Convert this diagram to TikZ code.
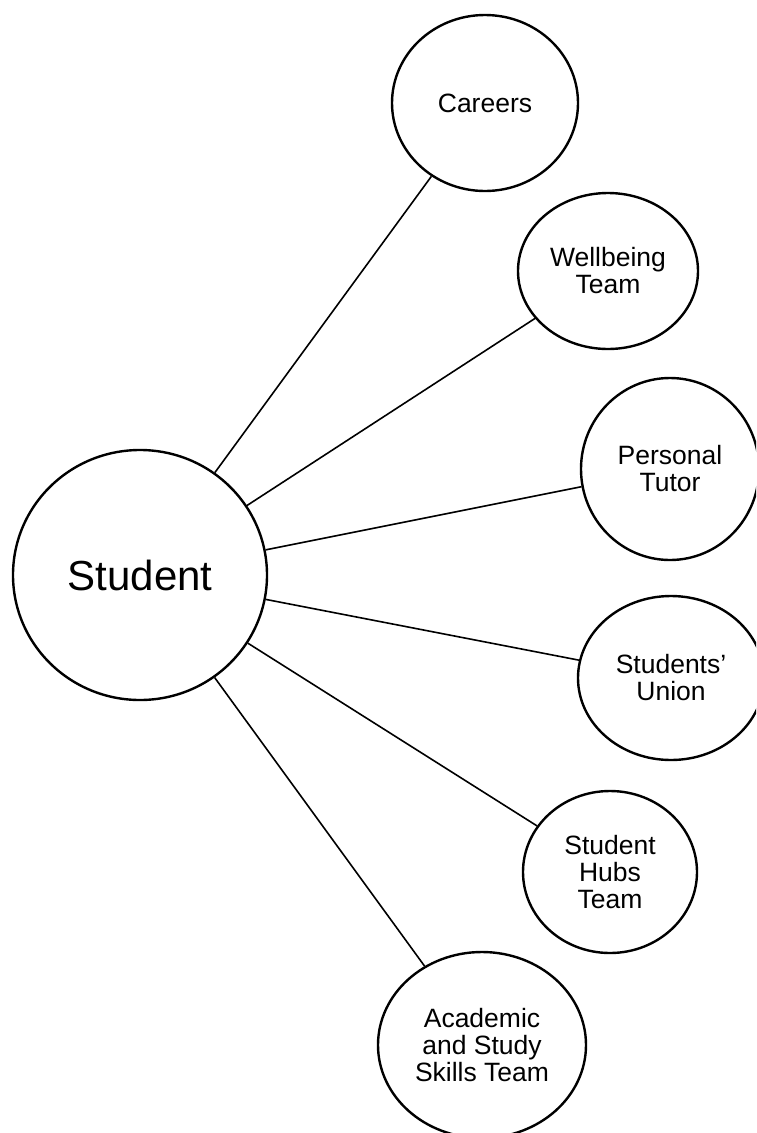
\documentclass[tikz,border=0pt]{standalone}
\usepackage{fontspec}
\setmainfont{Liberation Sans}
\usetikzlibrary{shapes.geometric}

\begin{document}
\begin{tikzpicture}[x=1pt,y=-1pt,thick,
    hub node/.style={ellipse,draw,line width=2.4pt,inner sep=0pt,align=center,font=\fontsize{42}{46}\selectfont},
    topic node/.style={ellipse,draw,line width=2.4pt,inner sep=0pt,align=center,font=\fontsize{26.5}{27}\selectfont}]
                \useasboundingbox (0,0) rectangle (756,1133);
                \clip (0,0) rectangle (756,1133);

                \node[hub node, minimum width=254, minimum height=250] (student) at (140,575) {Student};

                \node[topic node, minimum width=186, minimum height=176] (careers) at (485,103) {Careers};
                \node[topic node, minimum width=180, minimum height=156] (wellbeing) at (608,271) {Wellbeing\\Team};
                \node[topic node, minimum width=178, minimum height=182] (tutor) at (670,469) {Personal\\Tutor};
                \node[topic node, minimum width=186, minimum height=164] (union) at (671,678) {Students'\\Union};
                \node[topic node, minimum width=174, minimum height=162] (hubs) at (610,872) {Student\\Hubs\\Team};
                \node[topic node, minimum width=208, minimum height=186] (academic) at (482,1045) {Academic\\and Study\\Skills Team};

                \path[draw,line width=1.6pt]
                    (student) edge (careers)
                    (student) edge (wellbeing)
                    (student) edge (tutor)
                    (student) edge (union)
                    (student) edge (hubs)
                    (student) edge (academic)
                ;
            \end{tikzpicture}
\end{document}
